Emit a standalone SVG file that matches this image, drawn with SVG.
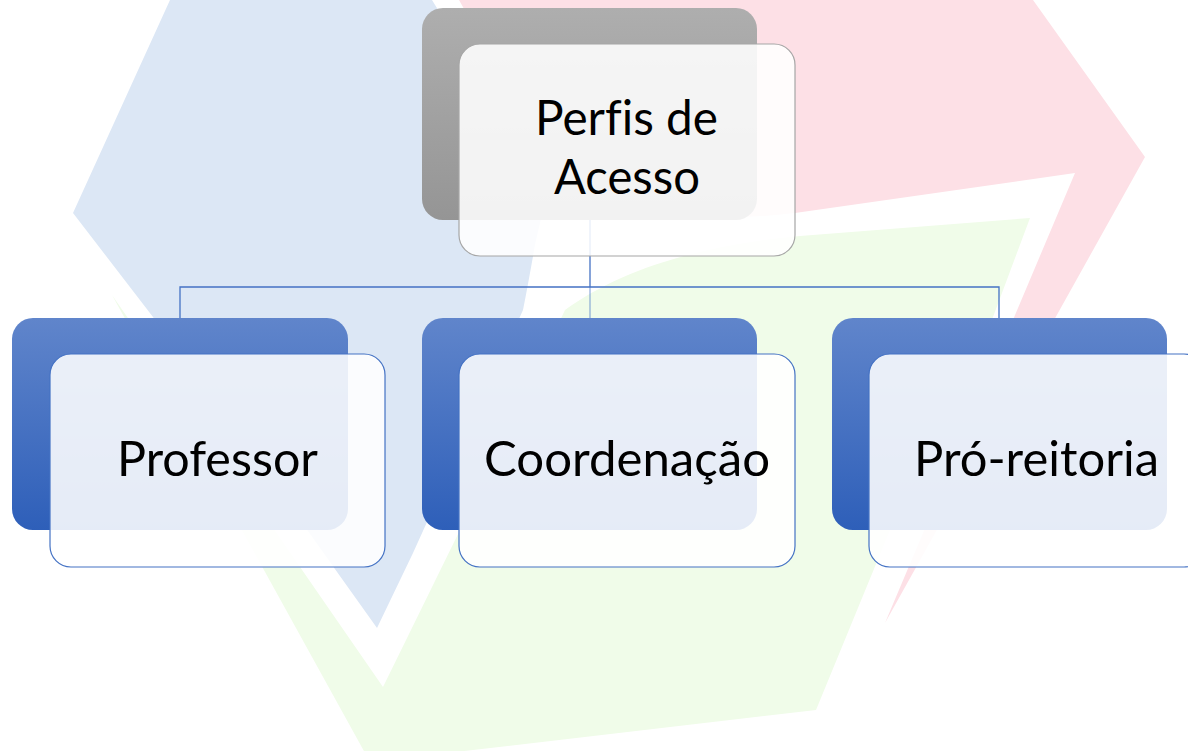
<svg xmlns="http://www.w3.org/2000/svg" width="1188" height="751" viewBox="0 0 1188 751">
  <defs>
    <linearGradient id="gGray" x1="0" y1="0" x2="0" y2="1">
      <stop offset="0" stop-color="#aeaeae"/>
      <stop offset="1" stop-color="#959595"/>
    </linearGradient>
    <linearGradient id="gBlue" x1="0" y1="0" x2="0" y2="1">
      <stop offset="0" stop-color="#6085cb"/>
      <stop offset="1" stop-color="#2e5fb9"/>
    </linearGradient>
    <style>
      .back-gray { fill: url(#gGray); }
      .back-blue { fill: url(#gBlue); }
      .front { fill: #ffffff; fill-opacity: 0.88; stroke-width: 1.2; }
      .front-gray { stroke: #a6a6a6; }
      .front-blue { stroke: #4472c4; }
      .label { font-family: Lato, "Open Sans", "Liberation Sans", sans-serif; font-size: 48px; fill: #000000; text-anchor: middle; font-variant-ligatures: none; font-feature-settings: "liga" 0; }
      .conn { fill: none; stroke: #4472c4; stroke-width: 1.3; }
    </style>
  </defs>
  <rect width="1188" height="751" fill="#ffffff"/>
  <g id="background">
    <path d="M170,0 L432,0 L548,188 Q542,215 535,245 Q528,285 523,310 L413,553 L377,628 L300,520 L153,317 L73,213 Z" fill="#dce7f5"/>
    <path d="M459,0 L1033,0 L1145,157 L885,623 L1075,173 L795,213 Q700,225 575,205 Z" fill="#fde0e6"/>
    <path d="M565,310 C620,270 700,245 800,236 L1030,218 L993,317 L890,530 L816,710 L370,762 L112,295 L383,687 L460,530 Z" fill="#f0fce9"/>
  </g>
  <g id="connectors">
    <path class="conn" d="M590,220 V287"/>
    <path class="conn" d="M180,318 V287 H999 V318"/>
    <path class="conn" d="M590,287 V318" stroke-opacity="0.55"/>
  </g>
  <g id="node-perfis">
    <rect class="back-gray" x="422" y="8" width="335" height="212" rx="21"/>
    <rect class="front front-gray" x="459" y="44" width="336" height="212" rx="21"/>
    <text class="label" x="626.5" y="135" textLength="183" lengthAdjust="spacingAndGlyphs">Perfis de</text>
    <text class="label" x="627" y="194" textLength="146" lengthAdjust="spacingAndGlyphs">Acesso</text>
  </g>
  <g id="node-professor">
    <rect class="back-blue" x="12" y="318" width="336" height="212" rx="21"/>
    <rect class="front front-blue" x="50" y="354" width="335" height="213" rx="21"/>
    <text class="label" x="217.5" y="476" textLength="201" lengthAdjust="spacingAndGlyphs">Professor</text>
  </g>
  <g id="node-coordenacao">
    <rect class="back-blue" x="422" y="318" width="335" height="212" rx="21"/>
    <rect class="front front-blue" x="459" y="354" width="336" height="213" rx="21"/>
    <text class="label" x="627" y="476" textLength="286" lengthAdjust="spacingAndGlyphs">Coordenação</text>
  </g>
  <g id="node-proreitoria">
    <rect class="back-blue" x="832" y="318" width="335" height="212" rx="21"/>
    <rect class="front front-blue" x="869" y="354" width="336" height="213" rx="21"/>
    <text class="label" x="1036.5" y="476" textLength="245" lengthAdjust="spacingAndGlyphs">Pró-reitoria</text>
  </g>
</svg>
